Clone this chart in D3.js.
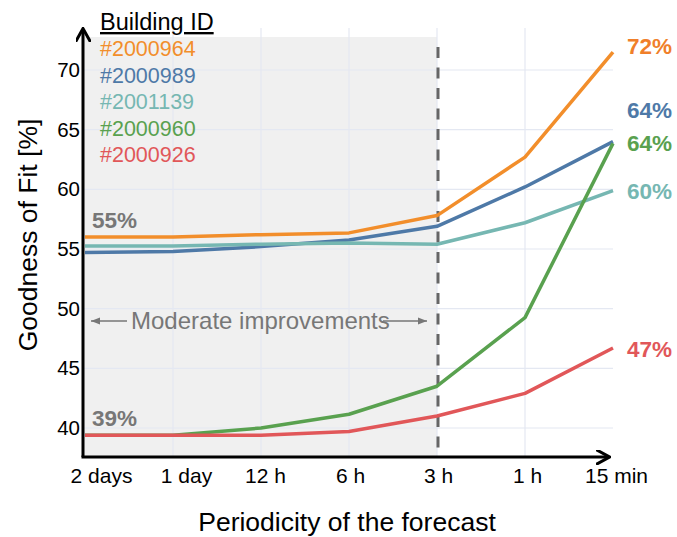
<!DOCTYPE html>
<html>
<head>
<meta charset="utf-8">
<script src="https://cdn.jsdelivr.net/npm/d3@7"></script>
<style>
  html, body { margin: 0; padding: 0; background: #fff; }
  svg { display: block; font-family: "Liberation Sans", Arial, sans-serif; }
</style>
</head>
<body>
<svg id="chart" width="677" height="537"></svg>
<script>
// ---- data ----
const categories = ["2 days", "1 day", "12 h", "6 h", "3 h", "1 h", "15 min"];
const buildingIds = ["#2000964", "#2000989", "#2001139", "#2000960", "#2000926"];
const values2000964 = [56.0, 56.0, 56.2, 56.35, 57.8, 62.7, 71.5];
const values2000989 = [54.7, 54.8, 55.2, 55.75, 56.9, 60.2, 64.0];
const values2001139 = [55.25, 55.25, 55.4, 55.5, 55.4, 57.2, 59.9];
const values2000960 = [39.4, 39.4, 40.0, 41.15, 43.5, 49.25, 63.85];
const values2000926 = [39.4, 39.4, 39.4, 39.7, 41.0, 42.9, 46.7];
const endLabels = ["72%", "64%", "60%", "64%", "47%"];
const startLabels = ["55%", "39%"];
const startLabelValues = [56.0, 39.4];
const yTicks = [40, 45, 50, 55, 60, 65, 70];
const annotationText = "Moderate improvements";
const shadeEnd = "3 h";

// ---- styles ----
const colors = ["#f28e2b", "#4e79a7", "#76b7b2", "#59a14f", "#e15759"];
const labelColors = ["#f07f2a", "#4e79a7", "#76b7b2", "#59a14f", "#e15759"];
const endLabelDy = [-6, -31, 1, 0, 1];
const tickLabelDx = [16, 13, 4, 1, 1, 2, 3];

const series = [values2000964, values2000989, values2001139, values2000960, values2000926];

const svg = d3.select("#chart");
const x = d3.scalePoint().domain(categories).range([85, 613]);
const y = d3.scaleLinear().domain([40, 70]).range([428, 70]);

const axisX = 83, axisY = 457, topY = 28, rightX = 613;

// shaded region
svg.append("rect")
  .attr("x", axisX).attr("y", 37)
  .attr("width", x(shadeEnd) - axisX).attr("height", axisY - 37)
  .attr("fill", "#f0f0f0");

// gridlines
svg.append("g").selectAll("line").data(yTicks).join("line")
  .attr("x1", axisX).attr("x2", rightX)
  .attr("y1", d => y(d)).attr("y2", d => y(d))
  .attr("stroke", "#e4e8f2").attr("stroke-width", 1.2);
svg.append("g").selectAll("line").data(categories.slice(1, -1)).join("line")
  .attr("x1", d => x(d)).attr("x2", d => x(d))
  .attr("y1", topY).attr("y2", axisY)
  .attr("stroke", "#e4e8f2").attr("stroke-width", 1.2);

// dashed divider
svg.append("line")
  .attr("x1", x(shadeEnd) + 1).attr("x2", x(shadeEnd) + 1)
  .attr("y1", 47).attr("y2", axisY)
  .attr("stroke", "#666").attr("stroke-width", 3)
  .attr("stroke-dasharray", "11,9.5");

// lines
const line = d3.line().x((d, i) => x(categories[i])).y(d => y(d));
svg.append("g").selectAll("path").data(series).join("path")
  .attr("d", d => line(d))
  .attr("fill", "none")
  .attr("stroke", (d, i) => colors[i])
  .attr("stroke-width", 3.5)
  .attr("stroke-linejoin", "round");

// end labels
svg.append("g").selectAll("text").data(series).join("text")
  .attr("x", x(categories[categories.length - 1]) + 14)
  .attr("y", (d, i) => y(d[d.length - 1]) + endLabelDy[i])
  .attr("dy", "0.35em")
  .attr("fill", (d, i) => labelColors[i])
  .attr("font-size", 22.5).attr("font-weight", "bold")
  .text((d, i) => endLabels[i]);

// start labels
svg.append("g").selectAll("text").data(startLabels).join("text")
  .attr("x", 92)
  .attr("y", (d, i) => y(startLabelValues[i]) - 9)
  .attr("fill", "#777")
  .attr("font-size", 22.5).attr("font-weight", "bold")
  .text(d => d);

// annotation
const annY = 321;
svg.append("defs").html(
  '<marker id="ah" viewBox="0 0 10 10" refX="10" refY="5" markerWidth="7" markerHeight="7" orient="auto-start-reverse">' +
  '<path d="M0,1 L10,5 L0,9 z" fill="#777"/></marker>' +
  '<marker id="axh" viewBox="0 0 10 10" refX="8" refY="5" markerWidth="5" markerHeight="5" orient="auto">' +
  '<path d="M0,0 L9,5 L0,10" fill="none" stroke="#000" stroke-width="2"/></marker>');
svg.append("line").attr("x1", 127).attr("x2", 91).attr("y1", annY).attr("y2", annY)
  .attr("stroke", "#777").attr("stroke-width", 1.3).attr("marker-end", "url(#ah)");
svg.append("line").attr("x1", 383).attr("x2", 427).attr("y1", annY).attr("y2", annY)
  .attr("stroke", "#777").attr("stroke-width", 1.3).attr("marker-end", "url(#ah)");
svg.append("text").attr("x", 131).attr("y", annY).attr("dy", "0.35em")
  .attr("fill", "#777").attr("font-size", 24).text(annotationText);

// axes (ticks via d3 axes)
const gx = svg.append("g").attr("transform", `translate(0,${axisY})`)
  .call(d3.axisBottom(x).tickSize(0).tickPadding(11));
gx.select(".domain").remove();
gx.selectAll("text").attr("font-size", 21).attr("fill", "#000")
  .attr("font-family", "Liberation Sans, Arial, sans-serif")
  .attr("dx", (d, i) => tickLabelDx[i]);

const gy = svg.append("g").attr("transform", `translate(${axisX},0)`)
  .call(d3.axisLeft(y).tickValues(yTicks).tickSize(0).tickPadding(3));
gy.select(".domain").remove();
gy.selectAll("text").attr("font-size", 20.5).attr("fill", "#000")
  .attr("font-family", "Liberation Sans, Arial, sans-serif");

// axis arrows
svg.append("path")
  .attr("d", `M${axisX},${axisY} L${axisX},${topY + 2}`)
  .attr("stroke", "#000").attr("stroke-width", 3).attr("fill", "none")
  .attr("marker-end", "url(#axh)");
svg.append("path")
  .attr("d", `M${axisX - 1.5},${axisY} L${rightX - 5},${axisY}`)
  .attr("stroke", "#000").attr("stroke-width", 3).attr("fill", "none")
  .attr("marker-end", "url(#axh)");

// axis titles
svg.append("text").attr("x", 347).attr("y", 531).attr("text-anchor", "middle")
  .attr("font-size", 26.5).attr("fill", "#000").text("Periodicity of the forecast");
svg.append("text").attr("transform", "translate(37,235) rotate(-90)")
  .attr("text-anchor", "middle")
  .attr("font-size", 26.5).attr("fill", "#000").text("Goodness of Fit [%]");

// legend
const lg = svg.append("g");
lg.append("text").attr("x", 100).attr("y", 30).attr("font-size", 23.5).attr("fill", "#000")
  .attr("text-decoration", "underline").text("Building ID");
lg.selectAll("text.item").data(buildingIds).join("text").attr("class", "item")
  .attr("x", 100).attr("y", (d, i) => 56 + i * 26.5)
  .attr("font-size", 21.5).attr("fill", (d, i) => colors[i])
  .text(d => d);
</script>
</body>
</html>
